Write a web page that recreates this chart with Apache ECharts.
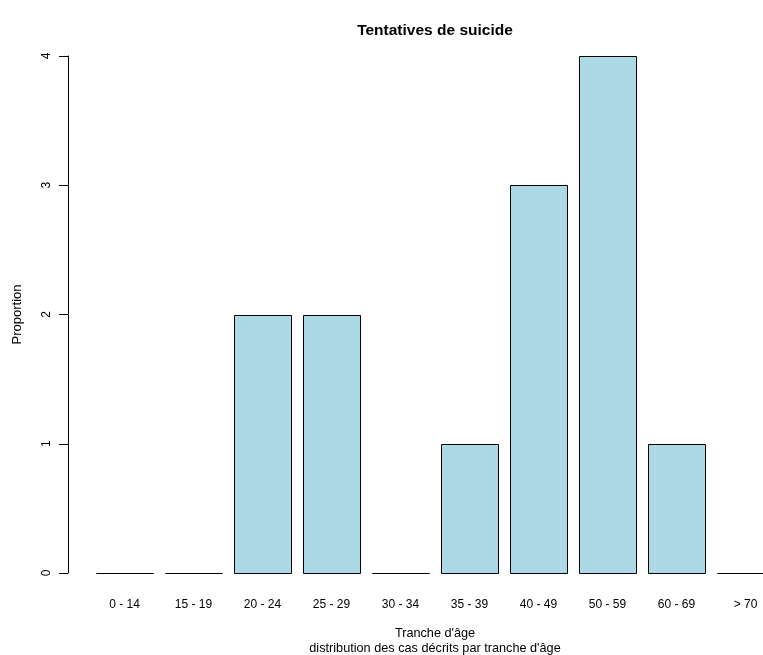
<!DOCTYPE html>
<html>
<head>
<meta charset="utf-8">
<script src="https://cdn.jsdelivr.net/npm/echarts@6/dist/echarts.min.js"></script>
<style>
  html, body { margin: 0; padding: 0; background: #ffffff; overflow: hidden; }
  #chart { width: 763px; height: 655px; }
</style>
</head>
<body>
<div id="chart"></div>
<script>
// Age bands and number of suicide attempts per band
const categories = ['0 - 14', '15 - 19', '20 - 24', '25 - 29', '30 - 34', '35 - 39', '40 - 49', '50 - 59', '60 - 69', '> 70'];
const counts = [0, 0, 2, 2, 0, 1, 3, 4, 1, 0];
const yTicks = [0, 1, 2, 3, 4];

const FONT = 'Liberation Sans, Arial, sans-serif';
const chart = echarts.init(document.getElementById('chart'), null, { renderer: 'canvas' });

chart.setOption({
  backgroundColor: '#ffffff',
  animation: false,
  title: {
    text: 'Tentatives de suicide',
    left: 430,
    top: 18,
    textAlign: 'center',
    textStyle: { fontFamily: FONT, fontSize: 15.5, fontWeight: 'bold', color: '#000' }
  },
  // the plot area runs past the right edge, so the last band is cut by the canvas
  grid: { left: 90, top: 56, width: 690, height: 517, containLabel: false, outerBoundsMode: 'none' },
  xAxis: {
    type: 'category',
    data: categories,
    boundaryGap: true,
    axisLine: { show: false },
    axisTick: { show: false },
    axisLabel: { margin: 26, fontFamily: FONT, fontSize: 12, color: '#000', interval: 0 },
    name: "Tranche d'âge\ndistribution des cas décrits par tranche d'âge",
    nameLocation: 'middle',
    nameGap: 53,
    nameTextStyle: { fontFamily: FONT, fontSize: 12.7, color: '#000', lineHeight: 15 }
  },
  yAxis: {
    type: 'value',
    min: yTicks[0],
    max: yTicks[yTicks.length - 1],
    interval: 1,
    offset: 22,
    splitLine: { show: false },
    axisLine: { show: true, lineStyle: { color: '#000', width: 1 } },
    axisTick: { show: true, length: 9, lineStyle: { color: '#000' } },
    axisLabel: { rotate: 90, margin: 15, fontFamily: FONT, fontSize: 12, color: '#000' },
    name: 'Proportion',
    nameLocation: 'middle',
    nameRotate: 90,
    nameGap: 44,
    nameTextStyle: { fontFamily: FONT, fontSize: 13, color: '#000' }
  },
  series: [{
    type: 'custom',
    clip: false,
    data: counts.map((v, i) => [i, v]),
    encode: { x: 0, y: 1 },
    renderItem: function (params, api) {
      const top = api.coord([api.value(0), api.value(1)]);
      const base = api.coord([api.value(0), 0]);
      const band = api.size([1, 0])[0];
      const w = band / 1.2;
      const x0 = Math.round(top[0] - w / 2);
      const x1 = Math.round(top[0] + w / 2);
      const y0 = Math.round(top[1]);
      const y1 = Math.round(base[1]);
      return {
        type: 'rect',
        shape: { x: x0 + 0.5, y: y0 + 0.5, width: x1 - x0, height: y1 - y0 },
        style: { fill: '#ADD8E6', stroke: '#000', lineWidth: 1 }
      };
    }
  }]
});
</script>
</body>
</html>
